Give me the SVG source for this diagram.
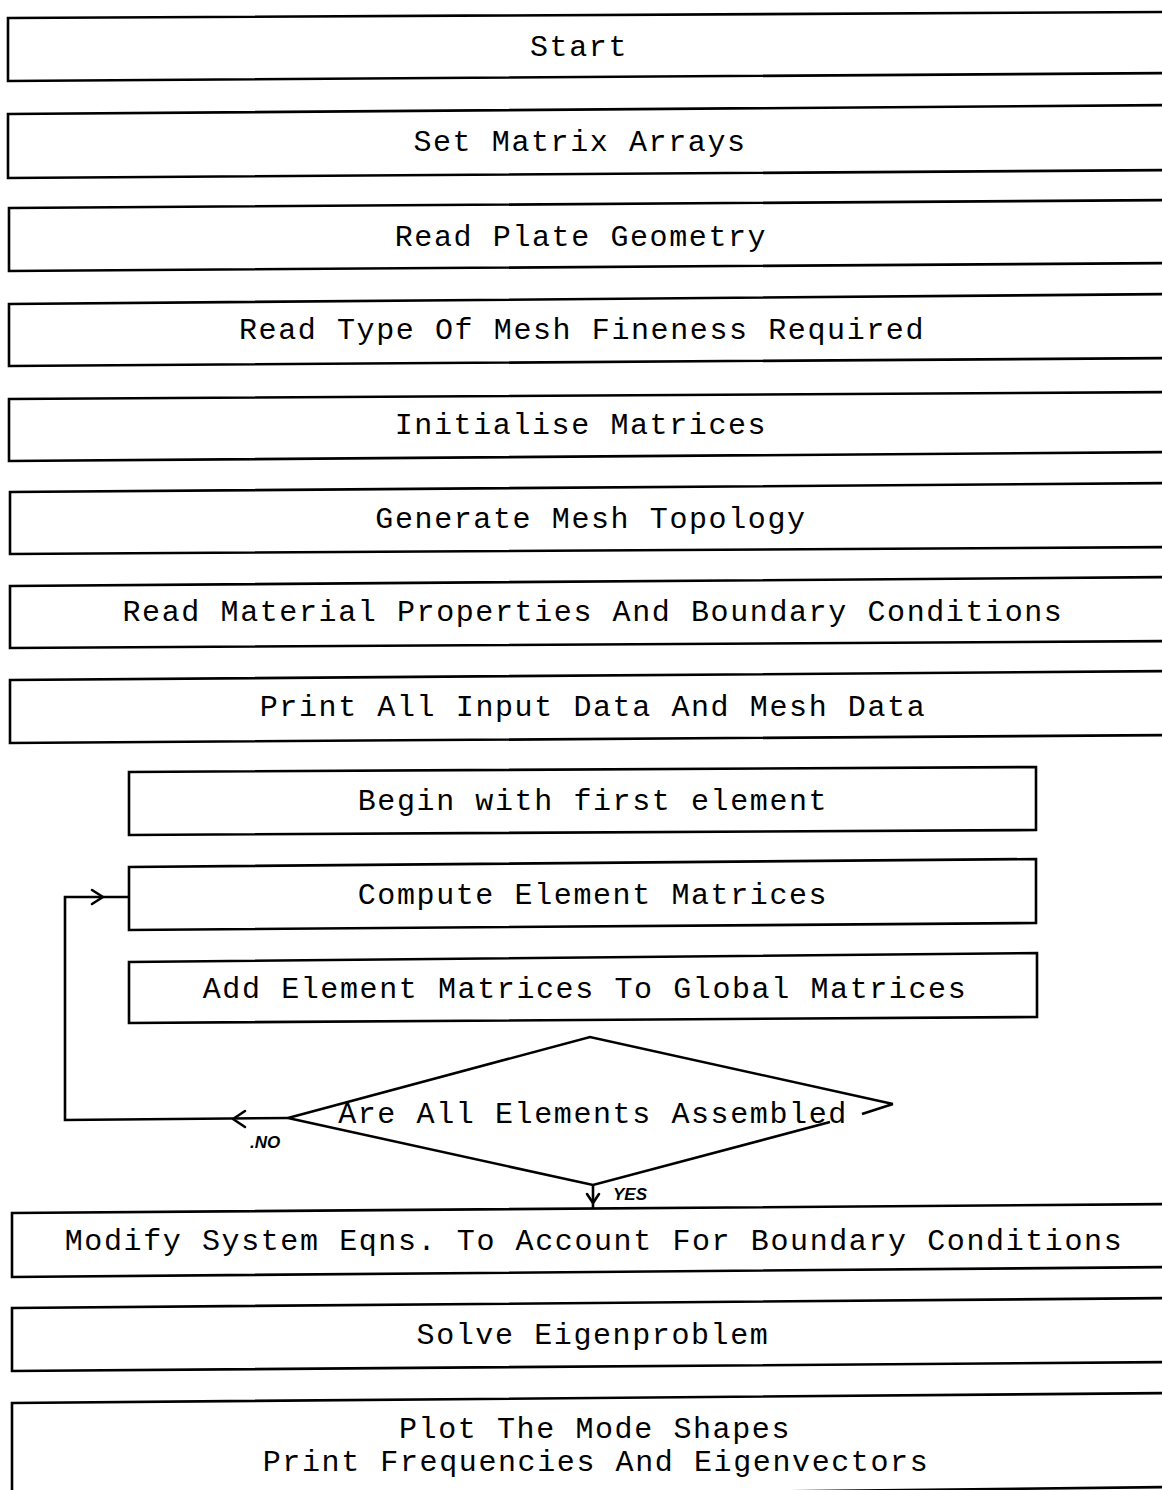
<svg xmlns="http://www.w3.org/2000/svg" width="1162" height="1490" viewBox="0 0 1162 1490">
<defs>
<style>
.box{fill:none;stroke:#000;stroke-width:2.6;stroke-linejoin:miter}
.t{font-family:"Liberation Mono","DejaVu Sans Mono",monospace;font-size:30px;letter-spacing:1.6px;fill:#000;text-anchor:middle}
.ln{fill:none;stroke:#000;stroke-width:2.6}
.ah{fill:none;stroke:#000;stroke-width:2.6;stroke-linecap:round;stroke-linejoin:round}
.lb{font-family:"Liberation Sans",Arial,sans-serif;font-size:17px;font-style:italic;font-weight:bold;fill:#000}
</style>
</defs>
<rect width="1162" height="1490" fill="#fff"/>
<g id="n1"><polygon class="box" points="8,18 1175,12 1175,73 8,81"/><text class="t" x="579" y="56">Start</text></g>
<g id="n2"><polygon class="box" points="8,114 1175,105 1175,170 8,178"/><text class="t" x="580" y="151">Set Matrix Arrays</text></g>
<g id="n3"><polygon class="box" points="9,208 1175,200 1175,263 9,271"/><text class="t" x="581" y="246">Read Plate Geometry</text></g>
<g id="n4"><polygon class="box" points="9,304 1175,294 1175,358 9,366"/><text class="t" x="582" y="339">Read Type Of Mesh Fineness Required</text></g>
<g id="n5"><polygon class="box" points="9,399 1175,392 1175,452 9,461"/><text class="t" x="581" y="434">Initialise Matrices</text></g>
<g id="n6"><polygon class="box" points="10,492 1175,483 1175,547 10,554"/><text class="t" x="591" y="528">Generate Mesh Topology</text></g>
<g id="n7"><polygon class="box" points="10,586 1175,577 1175,641 10,648"/><text class="t" x="593" y="621">Read Material Properties And Boundary Conditions</text></g>
<g id="n8"><polygon class="box" points="10,680 1175,671 1175,735 10,743"/><text class="t" x="593" y="716">Print All Input Data And Mesh Data</text></g>
<g id="n9"><polygon class="box" points="129,772 1036,767 1036,830 129,835"/><text class="t" x="593" y="810">Begin with first element</text></g>
<g id="n10"><polygon class="box" points="129,867 1036,859 1036,923 129,930"/><text class="t" x="593" y="904">Compute Element Matrices</text></g>
<g id="n11"><polygon class="box" points="129,962 1037,953 1037,1017 129,1023"/><text class="t" x="585" y="998">Add Element Matrices To Global Matrices</text></g>
<g id="n12"><path class="box" d="M830,1122 L593,1185 L288,1118 L590,1037 L893,1104 M862,1114 L893,1104"/><text class="t" x="593" y="1123">Are All Elements Assembled</text></g>
<g id="n13"><polygon class="box" points="12,1213 1175,1204 1175,1267 12,1277"/><text class="t" x="594" y="1250">Modify System Eqns. To Account For Boundary Conditions</text></g>
<g id="n14"><polygon class="box" points="12,1308 1175,1298 1175,1362 12,1371"/><text class="t" x="593" y="1344">Solve Eigenproblem</text></g>
<g id="n15"><polygon class="box" points="12,1403 1175,1393 1175,1487 12,1500"/><text class="t" x="595" y="1438">Plot The Mode Shapes</text><text class="t" x="596" y="1471">Print Frequencies And Eigenvectors</text></g>
<g id="connectors">
<path class="ln" d="M288,1118 L65,1120 L65,897 L129,897"/>
<path class="ah" d="M245,1111 L233,1119 L245,1127"/>
<path class="ah" d="M92,890 L103,897 L92,904"/>
<path class="ln" d="M593,1185 L593,1208"/>
<path class="ah" d="M587,1194 L593,1203 L599,1194"/>
<text class="lb" x="250" y="1148">.NO</text>
<text class="lb" x="613" y="1200" font-size="15">YES</text>
</g>
</svg>
